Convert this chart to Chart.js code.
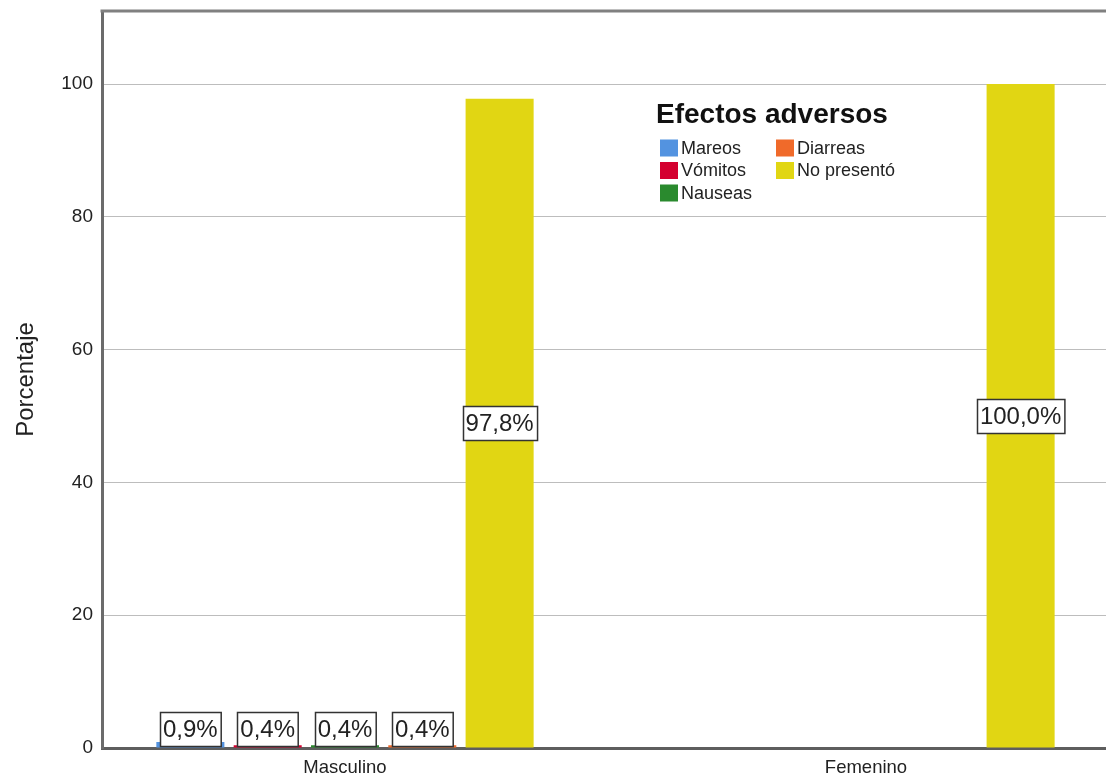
<!DOCTYPE html>
<html lang="es">
<head>
<meta charset="UTF-8">
<title>Efectos adversos por sexo</title>
<script src="https://cdn.jsdelivr.net/npm/chart.js"></script>
<style>
  body { margin: 0; background: #fff; overflow: hidden; }
  #wrap { width: 1106px; height: 778px; }
</style>
</head>
<body>
<div id="wrap"><canvas id="chart"></canvas></div>
<script>
// categorias del eje x (valor 0 y 1 en la escala)
const sexos = ['Masculino', 'Femenino'];
const efectos = ['Mareos', 'Vómitos', 'Nauseas', 'Diarreas', 'No presentó'];
// porcentaje por sexo (null = sin casos)
const mareos = [0.9, null];
const vomitos = [0.4, null];
const nauseas = [0.4, null];
const diarreas = [0.4, null];
const noPresento = [97.8, 100.0];
const yTicks = [0, 20, 40, 60, 80, 100];
const colores = ['#5393e0', '#d4002f', '#2a8a2e', '#f06a2a', '#e1d613'];
const tituloLeyenda = 'Efectos adversos';

const FONT = '"Liberation Sans", Arial, sans-serif';
const series = [mareos, vomitos, nauseas, diarreas, noPresento];

const datasets = series.map((vals, k) => ({
    label: efectos[k],
    data: vals.map((v, i) => ({ x: i, y: v })),
    backgroundColor: colores[k],
    borderWidth: 0,
    categoryPercentage: 0.742,
    barPercentage: 0.88
}));

// etiquetas de valor, leyenda y borde superior
const extras = {
    id: 'extras',
    afterDraw(chart) {
        const { ctx, chartArea } = chart;
        ctx.save();

        // borde superior del marco
        ctx.strokeStyle = '#808080';
        ctx.lineWidth = 3;
        ctx.beginPath();
        ctx.moveTo(chartArea.left - 1.5, chartArea.top);
        ctx.lineTo(chartArea.right, chartArea.top);
        ctx.stroke();

        // cajas con el porcentaje
        ctx.font = '24px ' + FONT;
        ctx.textAlign = 'center';
        ctx.textBaseline = 'middle';
        chart.data.datasets.forEach((ds, di) => {
            chart.getDatasetMeta(di).data.forEach((bar, i) => {
                const v = ds.data[i].y;
                if (v == null) return;
                const txt = v.toFixed(1).replace('.', ',') + '%';
                const w = ctx.measureText(txt).width + 6;
                const h = 34;
                let top = (bar.y + bar.base) / 2 - h / 2;
                if (top + h > bar.base - 2) top = bar.base - 2 - h;
                const left = Math.round(bar.x - w / 2) + 0.5;
                top = Math.round(top) + 0.5;
                ctx.fillStyle = '#fff';
                ctx.fillRect(left, top, w, h);
                ctx.strokeStyle = '#333';
                ctx.lineWidth = 1.5;
                ctx.strokeRect(left, top, w, h);
                ctx.fillStyle = '#222';
                ctx.fillText(txt, bar.x, top + h / 2 + 1);
            });
        });

        // leyenda en dos columnas
        ctx.textAlign = 'left';
        ctx.textBaseline = 'alphabetic';
        ctx.font = 'bold 28px ' + FONT;
        ctx.fillStyle = '#111';
        ctx.fillText(tituloLeyenda, 656, 123);

        ctx.font = '18px ' + FONT;
        ctx.textBaseline = 'middle';
        const colX = [660, 776];
        const rowY = [148, 170.5, 193];
        chart.data.datasets.forEach((ds, k) => {
            const x = colX[Math.floor(k / 3)];
            const y = rowY[k % 3];
            ctx.fillStyle = ds.backgroundColor;
            ctx.fillRect(x, y - 8.5, 18, 17);
            ctx.fillStyle = '#222';
            ctx.fillText(ds.label, x + 21, y + 1);
        });

        ctx.restore();
    }
};

new Chart(document.getElementById('chart'), {
    type: 'bar',
    data: { datasets: datasets },
    options: {
        responsive: true,
        maintainAspectRatio: false,
        animation: false,
        layout: { padding: { top: 11, right: 0, bottom: 0, left: 0 } },
        plugins: {
            legend: { display: false },
            tooltip: { enabled: false }
        },
        scales: {
            x: {
                type: 'linear',
                bounds: 'data',
                offset: false,
                min: -0.4664,
                max: 1.4607,
                z: 1,
                grid: { display: true, drawOnChartArea: false, drawTicks: false, offset: false },
                border: { display: true, width: 3, color: '#5e5e5e' },
                ticks: {
                    padding: 9,
                    color: '#222',
                    font: { size: 18.5, family: FONT },
                    maxRotation: 0,
                    autoSkip: false,
                    callback: v => sexos[v] ?? ''
                },
                afterBuildTicks: s => { s.ticks = sexos.map((_, i) => ({ value: i })); },
                afterFit: s => { s.height = 30; s.paddingLeft = 0; s.paddingRight = 0; }
            },
            y: {
                min: 0,
                max: 111,
                grid: { color: '#bdbdbd', lineWidth: 1, drawTicks: false },
                border: { display: true, width: 3, color: '#6b6b6b' },
                ticks: {
                    stepSize: 20,
                    padding: 9,
                    color: '#222',
                    font: { size: 19, family: FONT }
                },
                afterBuildTicks: s => { s.ticks = yTicks.map(v => ({ value: v })); },
                title: {
                    display: true,
                    text: 'Porcentaje',
                    color: '#222',
                    font: { size: 24, family: FONT },
                    padding: { top: 12, bottom: 0 }
                },
                afterFit: s => { s.width = 102; s.paddingTop = 0; s.paddingBottom = 0; }
            }
        }
    },
    plugins: [extras]
});
</script>
</body>
</html>
